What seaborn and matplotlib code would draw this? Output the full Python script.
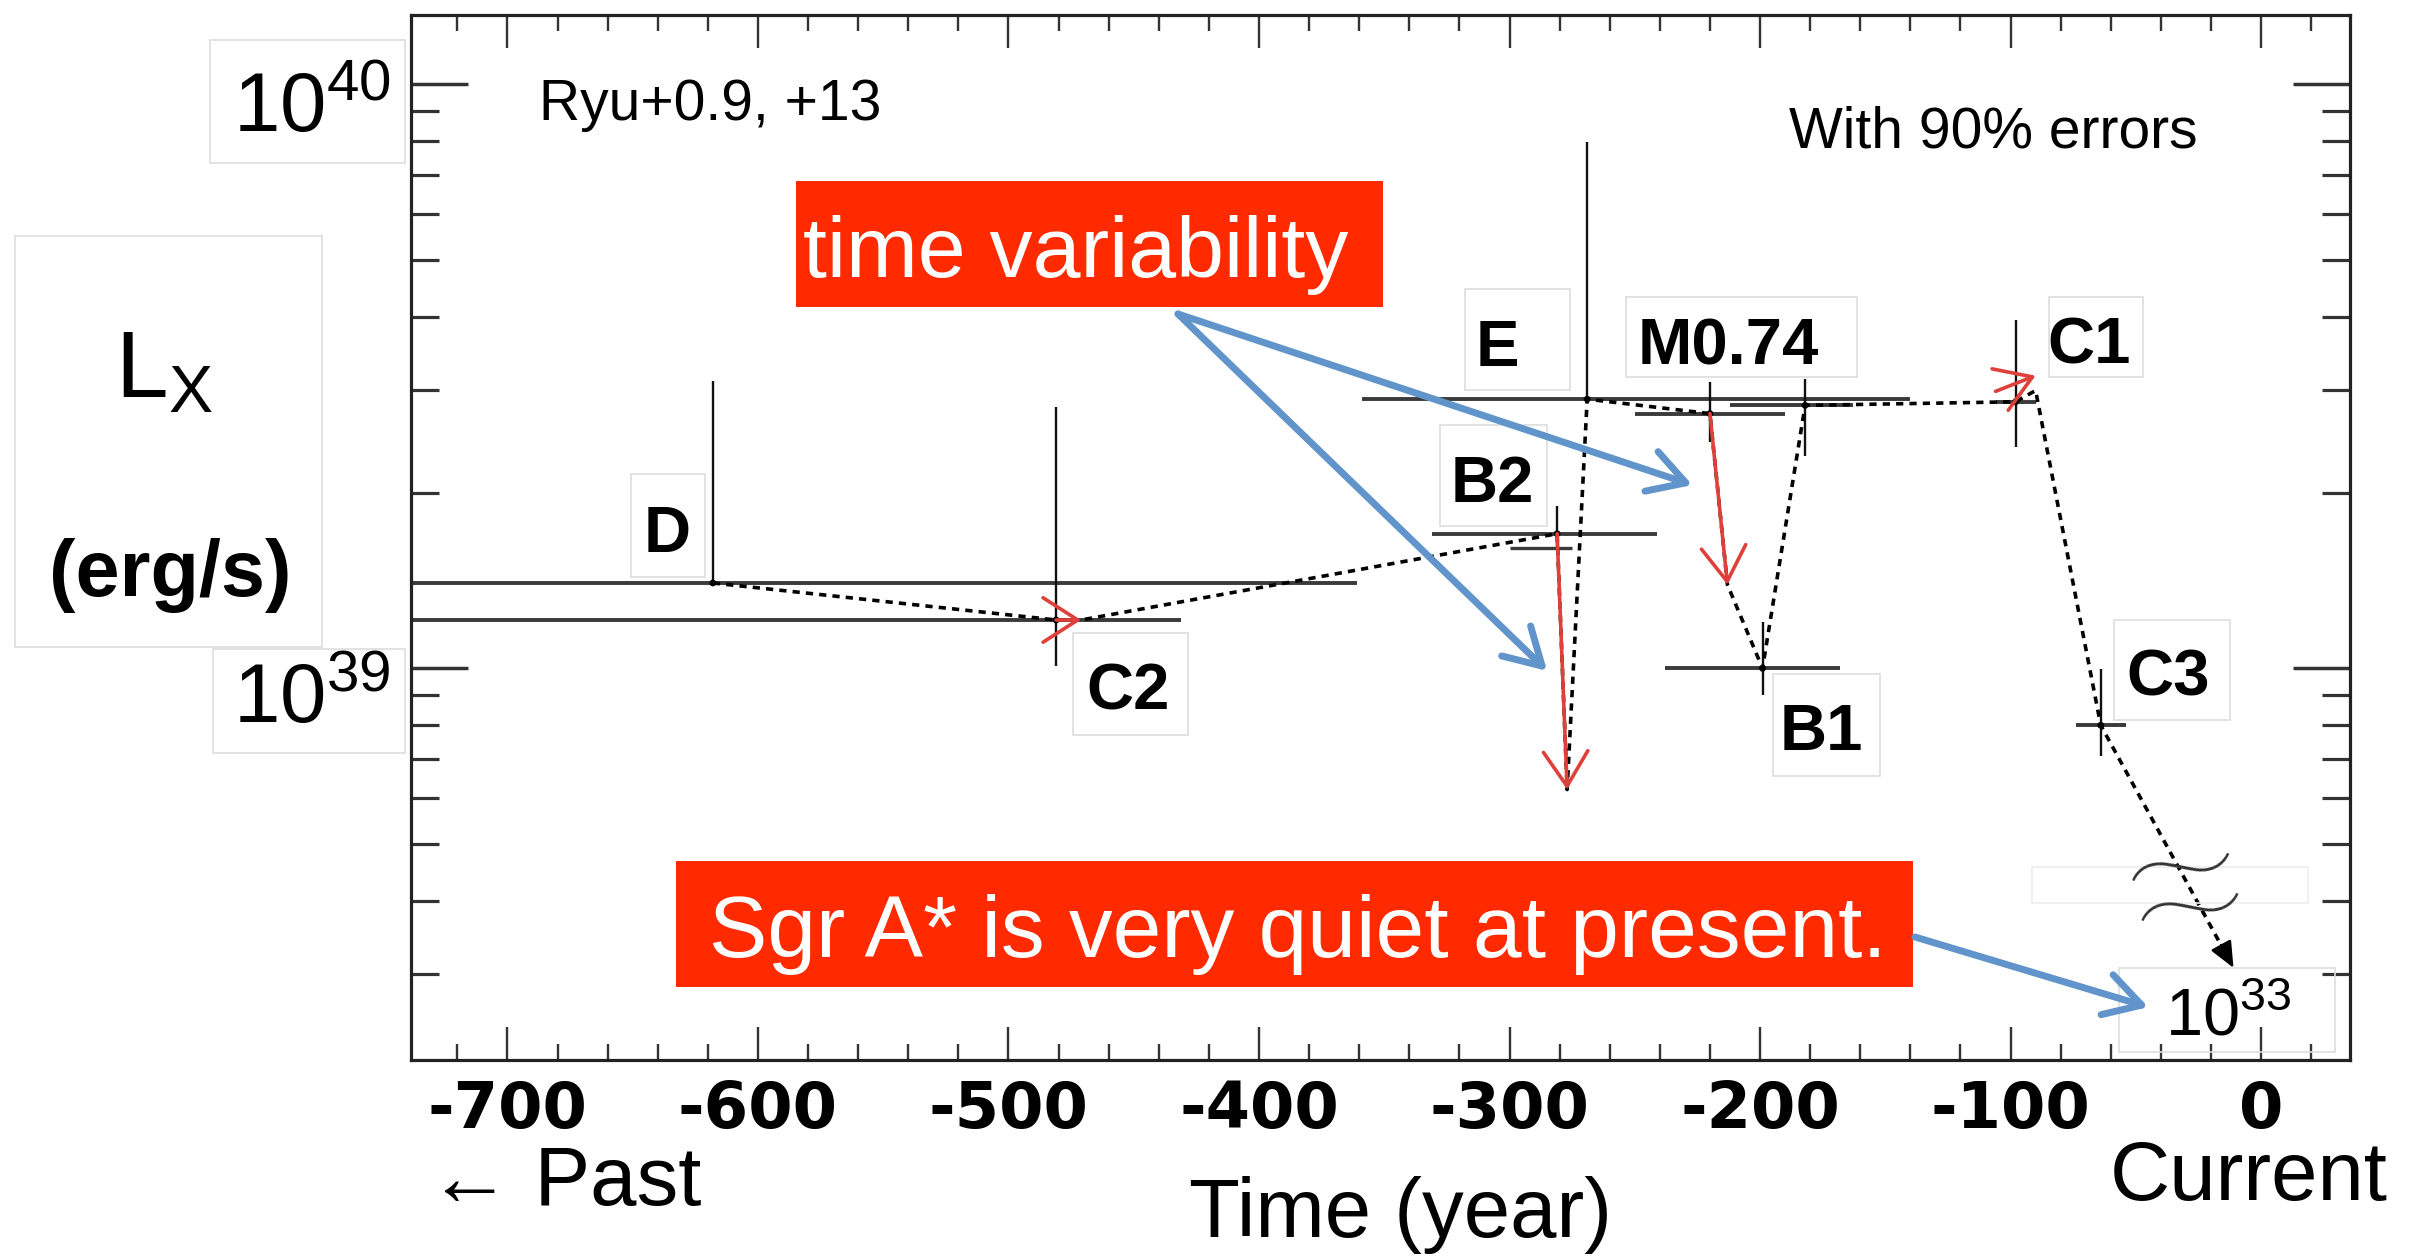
import numpy as np
import pandas as pd
import seaborn as sns
import matplotlib
matplotlib.use("Agg")
import matplotlib.pyplot as plt
from matplotlib.patches import Rectangle, ConnectionPatch
from matplotlib.ticker import MultipleLocator, LogLocator, NullFormatter, FixedLocator

# ---------------- data ----------------
cloud_names = ["D", "C2", "B2", "E", "M0.74", "", "B1", "C1", "C3"]
cloud_time = [-618, -481, -281, -269, -220, -182, -199, -98, -64]
cloud_lx = [1.40e39, 1.21e39, 1.70e39, 2.89e39, 2.73e39, 2.82e39, 1.00e39, 2.86e39, 7.99e38]
time_lo = [-900, -900, -331, -359, -250, -212, -238, -106, -74]
time_hi = [-361, -431, -241, -140, -190, -163, -168, -90, -54]
lx_lo = [1.40e39, 1.01e39, 1.61e39, 2.89e39, 2.44e39, 2.31e39, 0.90e39, 2.39e39, 7.08e38]
lx_hi = [3.11e39, 2.80e39, 1.90e39, 7.98e39, 3.09e39, 3.13e39, 1.20e39, 3.95e39, 9.97e38]

b2_extra_time = [-300, -275]
b2_extra_lx = [1.61e39]

# limit arrows (red)
limit_t0 = [-481, -281, -220, -106]
limit_l0 = [1.21e39, 1.70e39, 2.73e39, 2.98e39]
limit_t1 = [-471, -277, -213, -90]
limit_l1 = [1.21e39, 6.2e38, 1.39e39, 3.17e39]

# dotted light-curve path
path_time = [-618, -481, -471, -281, -277, -269, -220, -213, -199, -182, -98, -90, -64, -11]
path_lx = [1.40e39, 1.21e39, 1.21e39, 1.70e39, 6.2e38, 2.89e39, 2.73e39, 1.39e39,
           1.00e39, 2.82e39, 2.86e39, 2.99e39, 7.99e38, 3.07e38]
head_time = [-16, -11]
head_lx = [3.36e38, 3.07e38]

# callout arrow targets (blue)
callout_time = [-285, -227, -45]
callout_lx = [9.9e38, 2.06e39, 2.63e38]

tick_vals = [-700, -600, -500, -400, -300, -200, -100, 0]
tick_labels = ["-700", "-600", "-500", "-400", "-300", "-200", "-100", "0"]

x_range = (-738.5, 35.5)
y_range = (10 ** 38.3294, 10 ** 40.1186)

# ---------------- style ----------------
W, H, DPI = 2431, 1256, 100
sns.set_theme(style="white")
plt.rcParams["font.family"] = ["Liberation Sans", "DejaVu Sans"]
plt.rcParams["mathtext.fontset"] = "custom"
plt.rcParams["mathtext.rm"] = "Liberation Sans"
plt.rcParams["mathtext.it"] = "Liberation Sans:italic"
plt.rcParams["mathtext.bf"] = "Liberation Sans:bold"
plt.rcParams["mathtext.default"] = "regular"

RED_BOX = "#FF2A00"
RED = "#E0403A"
BLUE = "#6194CB"
DARK = "#222222"
FAINT = "#dddddd"


def fx(x):
    return x / W


def fy(y):
    return 1 - y / H


fig = plt.figure(figsize=(W / DPI, H / DPI), dpi=DPI)
fig.patch.set_facecolor("white")
ax = fig.add_axes([fx(411), fy(1060), (2350 - 411) / W, (1060 - 15) / H])
ax.set_facecolor("white")
ax.set_yscale("log")

# error bars
ax.hlines(cloud_lx, time_lo, time_hi, colors="#3a3a3a", lw=2.8, zorder=2)
ax.vlines(cloud_time, lx_lo, lx_hi, colors="#111111", lw=1.7, zorder=2)
ax.hlines(b2_extra_lx, [b2_extra_time[0]], [b2_extra_time[1]], colors="#3a3a3a", lw=2.4, zorder=2)

# dotted light curve
sns.lineplot(x=path_time, y=path_lx, sort=False, estimator=None, ax=ax, color="black",
             lw=2.6, linestyle=(0, (2.0, 1.7)), zorder=3)
ax.annotate("", xy=(head_time[1], head_lx[1]), xytext=(head_time[0], head_lx[0]),
            arrowprops=dict(arrowstyle="-|>,head_length=0.8,head_width=0.35", color="black",
                            lw=1.8, mutation_scale=20, shrinkA=0, shrinkB=0), zorder=3)

# data points
sns.scatterplot(x=cloud_time, y=cloud_lx, color="black", s=24, edgecolor="none", ax=ax, zorder=4)

# red limit arrows
for t0, l0, t1, l1 in zip(limit_t0, limit_l0, limit_t1, limit_l1):
    ax.annotate("", xy=(t1, l1), xytext=(t0, l0),
                arrowprops=dict(arrowstyle="->,head_length=1.25,head_width=0.8", color=RED,
                                lw=2.6, mutation_scale=20, shrinkA=0, shrinkB=0), zorder=5)

# axes formatting (ROOT-like frame)
ax.set_xlim(*x_range)
ax.set_ylim(*y_range)
ax.xaxis.set_major_locator(FixedLocator(tick_vals))
ax.set_xticklabels(tick_labels)
ax.xaxis.set_minor_locator(MultipleLocator(20))
ax.yaxis.set_major_locator(LogLocator(base=10, numticks=20))
ax.yaxis.set_minor_locator(LogLocator(base=10, subs=np.arange(2, 10), numticks=50))
ax.yaxis.set_major_formatter(NullFormatter())
ax.yaxis.set_minor_formatter(NullFormatter())
ax.set_xlabel("")
ax.set_ylabel("")
for sp in ax.spines.values():
    sp.set_visible(True)
    sp.set_color(DARK)
    sp.set_linewidth(2.3)
ax.tick_params(axis="x", which="major", direction="in", top=True, bottom=True,
               length=23.8, width=1.7, color="#333333", pad=14, labelsize=46)
ax.tick_params(axis="x", which="minor", direction="in", top=True, bottom=True,
               length=11.5, width=1.7, color="#333333")
ax.tick_params(axis="y", which="major", direction="in", left=True, right=True,
               length=41, width=2.5, color="#333333", labelleft=False)
ax.tick_params(axis="y", which="minor", direction="in", left=True, right=True,
               length=20.5, width=2.3, color="#333333", labelleft=False)
for lab in ax.get_xticklabels():
    lab.set_fontfamily("DejaVu Sans")
    lab.set_fontweight("bold")
    lab.set_fontsize(46)
    lab.set_color("black")
ax.grid(False)


# ---------------- overlay boxes and texts ----------------
def box(x0, y0, x1, y1, fc="white", ec=FAINT, lw=1.2, z=2):
    r = Rectangle((fx(x0), fy(y1)), (x1 - x0) / W, (y1 - y0) / H, transform=fig.transFigure,
                  facecolor=fc, edgecolor=ec, linewidth=lw, zorder=z)
    fig.add_artist(r)


def txt(x, y, s, size, ha="left", weight="normal", color="black", z=3, **kw):
    fig.text(fx(x), fy(y), s, fontsize=size, ha=ha, va="baseline", fontweight=weight,
             color=color, zorder=z, **kw)


# label boxes (positions in pixels)
label_boxes = {
    "D": (631, 474, 705, 577, 667, 552),
    "C2": (1073, 633, 1188, 735, 1128, 710),
    "E": (1465, 289, 1570, 390, 1497, 366),
    "B2": (1440, 425, 1547, 526, 1492, 502),
    "M0.74": (1626, 297, 1857, 377, 1728, 364),
    "B1": (1773, 674, 1880, 776, 1821, 750),
    "C1": (2049, 297, 2143, 377, 2089, 363),
    "C3": (2114, 620, 2230, 720, 2168, 696),
}
for name in [n for n in cloud_names if n]:
    x0, y0, x1, y1, tx, ty = label_boxes[name]
    box(x0, y0, x1, y1)
    txt(tx, ty, name, 47, ha="center", weight="bold")

# y tick label boxes
box(210, 40, 405, 163)
txt(233, 132, r"$10^{40}$", 60)
box(213, 649, 405, 753)
txt(233, 723, r"$10^{39}$", 60)

# L_X (erg/s)
box(15, 236, 322, 647)
txt(115, 397, r"$L_X$", 68)
txt(170, 596, "(erg/s)", 57, ha="center", weight="bold")

# present-day value
box(2119, 968, 2335, 1052, fc="none")
txt(2165, 1035, r"$10^{33}$", 48)
box(2032, 867, 2308, 903, fc="none", ec="#eeeeee")
fig.text(fx(2188), fy(898), "\u2248", fontsize=200, ha="center", va="center", rotation=13,
         color="#333333", family=["Lato", "DejaVu Sans"], fontweight=100, zorder=3)

# corner notes
txt(539, 120, "Ryu+0.9, +13", 41)
txt(1789, 147, "With 90% errors", 41)

# red banners
box(796, 181, 1383, 307, fc=RED_BOX, ec="none", z=4)
txt(803, 277, "time variability", 62, color="white", z=5)
box(676, 861, 1913, 987, fc=RED_BOX, ec="none", z=4)
txt(709, 957, "Sgr A* is very quiet at present.", 63, color="white", z=5)

# axis captions
txt(428, 1205, "\u2190 Past", 60)
txt(1189, 1237, "Time (year)", 60)
txt(2110, 1200, "Current", 60)

# blue callout arrows
callout_starts = [(1178, 314), (1178, 314), (1915, 937)]
for (sx, sy), t, l in zip(callout_starts, callout_time, callout_lx):
    con = ConnectionPatch(xyA=(fx(sx), fy(sy)), coordsA=fig.transFigure,
                          xyB=(t, l), coordsB=ax.transData,
                          arrowstyle="->,head_length=1.3,head_width=0.75", mutation_scale=20,
                          lw=5.0, color=BLUE, shrinkA=0, shrinkB=0,
                          capstyle="round", joinstyle="round", zorder=6)
    fig.add_artist(con)

fig.savefig("out.png", dpi=DPI, facecolor="white")
